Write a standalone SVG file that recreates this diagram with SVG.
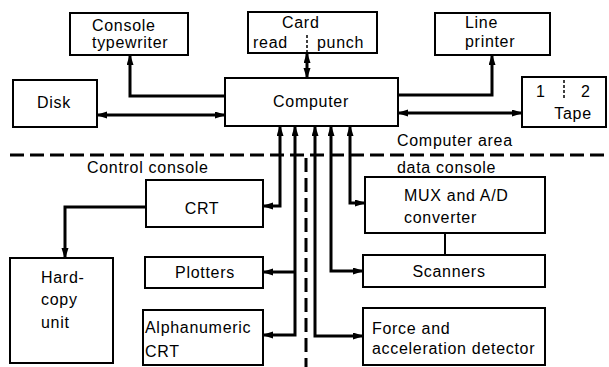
<svg xmlns="http://www.w3.org/2000/svg" width="609" height="367" viewBox="0 0 609 367">
  <style>
    .box { fill: #fff; stroke: #000; stroke-width: 2; }
    .lbl { font-family: "Liberation Sans", Arial, sans-serif; font-size: 16px; letter-spacing: 0.7px; fill: #000; }
    .mid { text-anchor: middle; }
    .wire { fill: none; stroke: #000; stroke-width: 3; stroke-linejoin: miter; }
    .thin { fill: none; stroke: #000; stroke-width: 2; }
    .fence { fill: none; stroke: #000; stroke-width: 3; stroke-dasharray: 14 6; }
    .sep { fill: none; stroke: #000; stroke-width: 1.5; stroke-dasharray: 3 2; }
  </style>
  <defs>
    <marker id="ah" markerUnits="userSpaceOnUse" markerWidth="11" markerHeight="8" refX="9" refY="3.5" orient="auto-start-reverse">
      <path d="M0,0 L11,3.5 L0,7 z" fill="#000"/>
    </marker>
  </defs>

  <rect width="609" height="367" fill="#fff"/>

  <!-- area boundaries -->
  <g id="boundaries">
    <line class="fence" x1="10" y1="155" x2="609" y2="155"/>
    <line class="fence" x1="306" y1="158" x2="306" y2="367" stroke-dasharray="11 6"/>
    <text class="lbl" x="87" y="173">Control console</text>
    <text class="lbl" x="397" y="146">Computer area</text>
    <text class="lbl" x="397" y="173">data console</text>
  </g>

  <!-- connectors -->
  <g id="connectors">
    <path class="wire" d="M225,96 H130 V56" marker-end="url(#ah)"/>
    <path class="wire" d="M98,115 H224" marker-start="url(#ah)" marker-end="url(#ah)"/>
    <path class="wire" d="M307,54 V77" marker-start="url(#ah)" marker-end="url(#ah)"/>
    <path class="wire" d="M398,95 H492 V56" marker-end="url(#ah)"/>
    <path class="wire" d="M399,113 H521" marker-start="url(#ah)" marker-end="url(#ah)"/>
    <path class="wire" d="M264,206 H280 V127" marker-start="url(#ah)" marker-end="url(#ah)"/>
    <path class="wire" d="M264,335 H295 V127" marker-start="url(#ah)" marker-end="url(#ah)"/>
    <path class="wire" d="M295,272 H264" marker-end="url(#ah)"/>
    <path class="wire" d="M315,127 V336 H362" marker-start="url(#ah)" marker-end="url(#ah)"/>
    <path class="wire" d="M331,127 V271 H362" marker-start="url(#ah)" marker-end="url(#ah)"/>
    <path class="wire" d="M350,127 V203 H364" marker-start="url(#ah)" marker-end="url(#ah)"/>
    <path class="wire" d="M146,207 H65 V257" marker-end="url(#ah)"/>
    <path class="thin" d="M445,233 V255"/>
  </g>

  <g id="console-typewriter">
    <rect class="box" x="70" y="13" width="118" height="42"/>
    <text class="lbl" x="92" y="31">Console</text>
    <text class="lbl" x="92" y="48">typewriter</text>
  </g>

  <g id="card">
    <rect class="box" x="248" y="12" width="129" height="41"/>
    <text class="lbl" x="282" y="28">Card</text>
    <text class="lbl" x="253" y="48">read</text>
    <text class="lbl" x="317" y="48">punch</text>
    <line class="sep" x1="307" y1="35" x2="307" y2="53"/>
  </g>

  <g id="line-printer">
    <rect class="box" x="435" y="13" width="115" height="42"/>
    <text class="lbl" x="465" y="28">Line</text>
    <text class="lbl" x="465" y="47">printer</text>
  </g>

  <g id="disk">
    <rect class="box" x="13" y="80" width="84" height="47"/>
    <text class="lbl mid" x="54" y="108">Disk</text>
  </g>

  <g id="computer">
    <rect class="box" x="225" y="78" width="173" height="48"/>
    <text class="lbl mid" x="311" y="107">Computer</text>
  </g>

  <g id="tape">
    <rect class="box" x="522" y="77" width="84" height="50"/>
    <text class="lbl" x="536" y="97">1</text>
    <text class="lbl" x="581" y="97">2</text>
    <line class="sep" x1="564" y1="80" x2="564" y2="100"/>
    <text class="lbl mid" x="573" y="119">Tape</text>
  </g>

  <g id="crt">
    <rect class="box" x="146" y="180" width="117" height="47"/>
    <text class="lbl mid" x="202" y="214">CRT</text>
  </g>

  <g id="hard-copy-unit">
    <rect class="box" x="10" y="258" width="103" height="105"/>
    <text class="lbl" x="41" y="283">Hard-</text>
    <text class="lbl" x="41" y="305">copy</text>
    <text class="lbl" x="41" y="328">unit</text>
  </g>

  <g id="plotters">
    <rect class="box" x="145" y="257" width="118" height="31"/>
    <text class="lbl mid" x="205" y="278">Plotters</text>
  </g>

  <g id="alphanumeric-crt">
    <rect class="box" x="143" y="310" width="120" height="55"/>
    <text class="lbl" x="145" y="333">Alphanumeric</text>
    <text class="lbl" x="145" y="357">CRT</text>
  </g>

  <g id="mux-ad">
    <rect class="box" x="365" y="177" width="180" height="56"/>
    <text class="lbl" x="404" y="201">MUX and A/D</text>
    <text class="lbl" x="404" y="223">converter</text>
  </g>

  <g id="scanners">
    <rect class="box" x="363" y="255" width="182" height="32"/>
    <text class="lbl mid" x="449" y="277">Scanners</text>
  </g>

  <g id="force-detector">
    <rect class="box" x="363" y="308" width="182" height="57"/>
    <text class="lbl" x="372" y="334">Force and</text>
    <text class="lbl" x="372" y="354">acceleration detector</text>
  </g>
</svg>
